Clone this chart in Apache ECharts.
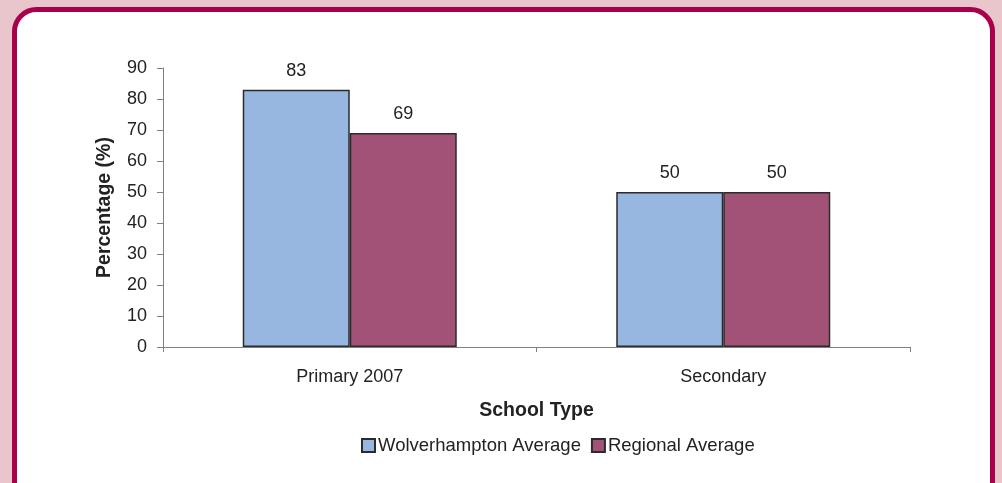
<!DOCTYPE html>
<html><head><meta charset="utf-8">
<script src="https://cdn.jsdelivr.net/npm/echarts@6/dist/echarts.min.js"></script>
<style>html,body{margin:0;padding:0;background:#E9C6CB;}#c{width:1002px;height:483px;}</style>
</head><body><div id="c"></div>
<script>
const categories = ['Primary 2007', 'Secondary'];
const seriesNames = ['Wolverhampton Average', 'Regional Average'];
const wolverhampton = [83, 50];
const regional = [69, 50];
const yTicks = [0, 10, 20, 30, 40, 50, 60, 70, 80, 90];

const chart = echarts.init(document.getElementById('c'), null, {renderer: 'canvas'});
const font = '"Liberation Sans", Arial, sans-serif';
const barStyle = (c) => ({color: c, borderColor: '#2b2b2b', borderWidth: 1.5});
const labelCfg = {show: true, position: 'top', distance: 10, fontSize: 18, color: '#222', fontFamily: font};
chart.setOption({
  backgroundColor: '#E9C6CB',
  animation: false,
  graphic: [{
    type: 'rect', z: -1,
    shape: {x: 14.5, y: 9.5, width: 978, height: 500, r: 22},
    style: {fill: '#ffffff', stroke: '#A8004B', lineWidth: 5}
  }],
  grid: {left: 163, right: 92, top: 68, bottom: 136, containLabel: false},
  legend: {
    data: seriesNames, left: 356, top: 431,
    itemWidth: 13, itemHeight: 13, itemGap: 10, icon: 'rect',
    textStyle: {fontSize: 18.5, color: '#222', fontFamily: font, padding: [0,0,0,-2]},
  },
  xAxis: {
    type: 'category', data: categories,
    name: 'School Type', nameLocation: 'middle', nameGap: 54,
    nameTextStyle: {fontSize: 19.5, fontWeight: 'bold', color: '#222', fontFamily: font},
    axisLine: {lineStyle: {color: '#808080', width: 1}},
    axisTick: {show: true, length: 5, lineStyle: {color: '#808080'}},
    axisLabel: {fontSize: 18, color: '#222', margin: 21, fontFamily: font}
  },
  yAxis: {
    type: 'value', min: yTicks[0], max: yTicks[yTicks.length-1], interval: 10,
    name: 'Percentage (%)', nameLocation: 'middle', nameGap: 48, nameRotate: 90,
    nameTextStyle: {fontSize: 19.5, fontWeight: 'bold', color: '#222', fontFamily: font},
    axisLine: {show: true, lineStyle: {color: '#808080', width: 1}},
    axisTick: {show: true, length: 6, lineStyle: {color: '#808080'}},
    splitLine: {show: false},
    axisLabel: {fontSize: 18, color: '#222', margin: 16, fontFamily: font}
  },
  series: [
    {name: seriesNames[0], type: 'bar', data: wolverhampton, barWidth: 107, barGap: '0%',
     itemStyle: barStyle('#97B7E0'), label: labelCfg},
    {name: seriesNames[1], type: 'bar', data: regional, barWidth: 107, barGap: '0%',
     itemStyle: barStyle('#A25276'), label: labelCfg}
  ]
});
</script></body></html>
